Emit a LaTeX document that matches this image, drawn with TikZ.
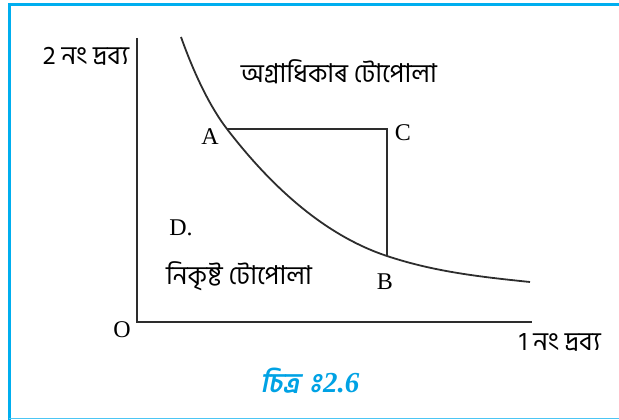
\documentclass[tikz,border=0pt]{standalone}
\usepackage{fontspec}
\setmainfont{Liberation Serif}
\newfontfamily\bn[Script=Bengali]{Hind Siliguri}
\newfontfamily\bncap[Script=Bengali,FakeSlant=0.2]{Hind Siliguri}
\usetikzlibrary{positioning}
\definecolor{frm}{RGB}{0,174,239}
\definecolor{capcol}{RGB}{0,162,228}
\definecolor{ink}{RGB}{45,45,45}

\begin{document}
\begin{tikzpicture}[x=1pt, y=-1pt,
    ax/.style={ink, line width=2.6pt},
    ln/.style={ink, line width=1.8pt},
    lbl/.style={font=\fontsize{24}{28}\selectfont, inner sep=0pt},
    bnl/.style={font=\fontsize{26}{30}\selectfont\bn, inner sep=0pt}]
  \useasboundingbox (0,0) rectangle (619,420);
  % === frame ===
  \draw[frm, line width=2.7pt] (619,4.7) -- (9.3,4.7) -- (9.3,420);
  \draw[frm!70, line width=1pt] (9.3,418.8) -- (619,418.8);
  % === axes ===
  \coordinate (O) at (137,322);
  \coordinate (ytop) at (137,38);
  \coordinate (xend) at (532,322);
  \draw[ax] (ytop) -- (O) -- (xend);
  % === indifference curve and points ===
  \coordinate (top) at (181,37);
  \coordinate (A) at (227,129);
  \coordinate (B) at (387,256);
  \coordinate (C) at (387,129);
  \coordinate (tail) at (530,282);
  \draw[ln] (top) .. controls (196,79) and (212,109.5) .. (A)
    .. controls (280,198) and (334,238.5) .. (B)
    .. controls (435,272) and (482,277) .. (tail);
  \draw[ln] (A) -- (C) -- (B);
  % === labels ===
  \node[lbl] (lA) at (210,137) {A};
  \node[lbl] (lC) at (403,133) {C};
  \node[lbl] (lB) at (385,282) {B};
  \node[lbl] (lD) at (181,228) {D.};
  \node[lbl] (lO) at (122,330) {O};
  \node[bnl] (ylab) at (86,56) {2 নং দ্রব্য};
  \node[bnl] (xlab) at (560,342) {1 নং দ্রব্য};
  \node[bnl] (pref) at (339,72) {অগ্রাধিকাৰ টোপোলা};
  \node[bnl] (infr) at (239,276) {নিকৃষ্ট টোপোলা};
  % === caption ===
  \node[capcol, inner sep=0pt] (fig) at (310,381)
    {{\fontsize{27}{31}\selectfont\bncap\bfseries চিত্র\kern4pt^^^^00a0ঃ\kern2pt}%
     {\fontsize{29}{33}\selectfont\bfseries\itshape 2.6}};
\end{tikzpicture}
\end{document}
